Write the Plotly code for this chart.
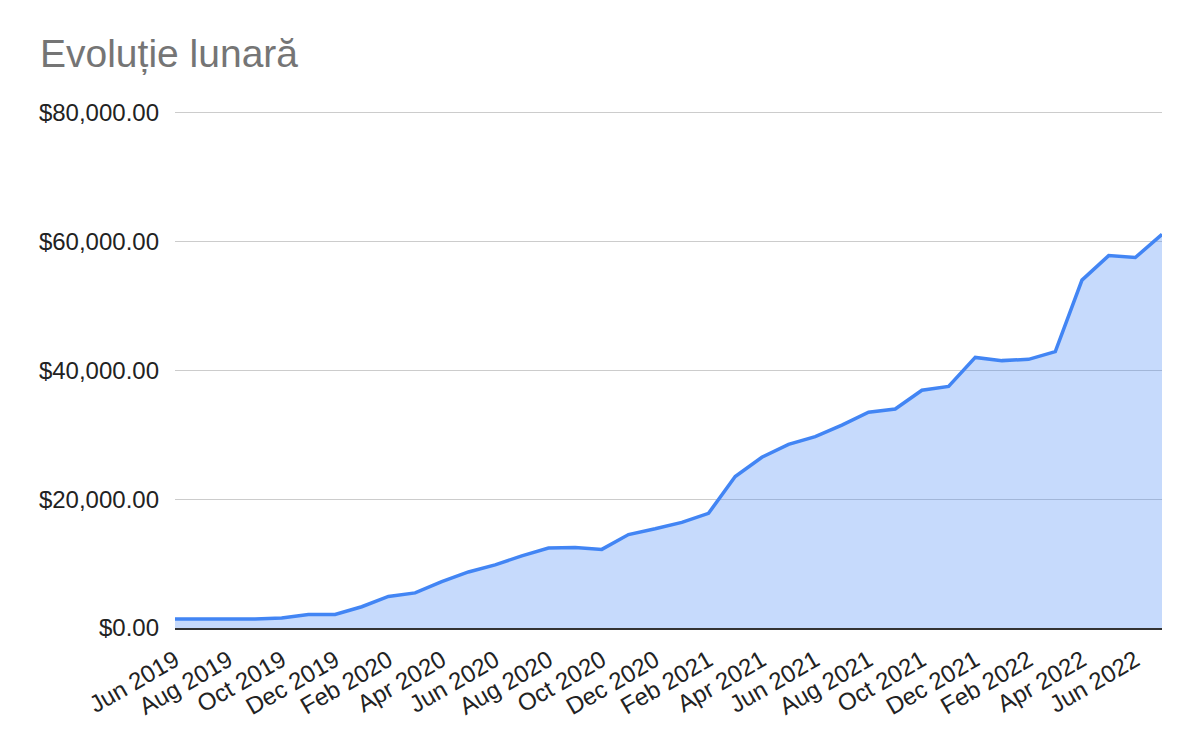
import plotly.graph_objects as go

months = [
    "Jun 2019", "Jul 2019", "Aug 2019", "Sep 2019", "Oct 2019", "Nov 2019", "Dec 2019",
    "Jan 2020", "Feb 2020", "Mar 2020", "Apr 2020", "May 2020", "Jun 2020", "Jul 2020",
    "Aug 2020", "Sep 2020", "Oct 2020", "Nov 2020", "Dec 2020",
    "Jan 2021", "Feb 2021", "Mar 2021", "Apr 2021", "May 2021", "Jun 2021", "Jul 2021",
    "Aug 2021", "Sep 2021", "Oct 2021", "Nov 2021", "Dec 2021",
    "Jan 2022", "Feb 2022", "Mar 2022", "Apr 2022", "May 2022", "Jun 2022", "Jul 2022",
]

values = [
    1400, 1400, 1300, 1400, 1550, 2100, 2100,
    3300, 4900, 5450, 7200, 8700, 9800, 11200,
    12400, 12500, 12200, 14500, 15400,
    16400, 17800, 23500, 26500, 28500, 29700, 31500,
    33500, 34000, 36900, 37500, 42000,
    41500, 41700, 42900, 54000, 57800, 57500, 61100,
]

tick_labels = months[::2]
y_ticks = [0, 20000, 40000, 60000, 80000]

FONT = "Liberation Sans, Arial, sans-serif"

# the page body adds an 8px offset; margins compensate for it
OFF = 8

fig = go.Figure()
fig.add_trace(go.Scatter(
    x=months,
    y=values,
    mode="lines",
    line=dict(color="#4285F4", width=3.5),
    fill="tozeroy",
    fillcolor="rgba(66,133,244,0.3)",
    hoverinfo="x+y",
))

fig.update_layout(
    width=1200,
    height=742,
    paper_bgcolor="white",
    plot_bgcolor="white",
    margin=dict(l=175 - OFF, r=38 + OFF, t=110.4 - OFF, b=114 + OFF),
    showlegend=False,
    title=dict(
        text="Evoluție lunară",
        font=dict(family=FONT, size=39, color="#757575"),
        x=(40 - OFF) / 1200,
        xref="container",
        xanchor="left",
        y=1 - (53 - OFF) / 742,
        yref="container",
        yanchor="middle",
    ),
    font=dict(family=FONT, color="#222222"),
)

fig.update_xaxes(
    type="category",
    range=[0, len(months) - 1],
    tickmode="array",
    tickvals=tick_labels,
    ticktext=tick_labels,
    tickangle=-30,
    tickfont=dict(family=FONT, size=24, color="#222222"),
    showgrid=False,
    showline=True,
    linecolor="#333333",
    linewidth=2,
    ticks="",
    ticklabelstandoff=7,
    zeroline=False,
)

fig.update_yaxes(
    range=[0, 80400],
    tickmode="array",
    tickvals=y_ticks,
    tickformat="$,.2f",
    tickfont=dict(family=FONT, size=24, color="#222222"),
    showgrid=True,
    gridcolor="#cccccc",
    gridwidth=1,
    zeroline=False,
    showline=False,
    ticks="",
    ticklabelstandoff=15,
)

fig.write_html("out.html")
